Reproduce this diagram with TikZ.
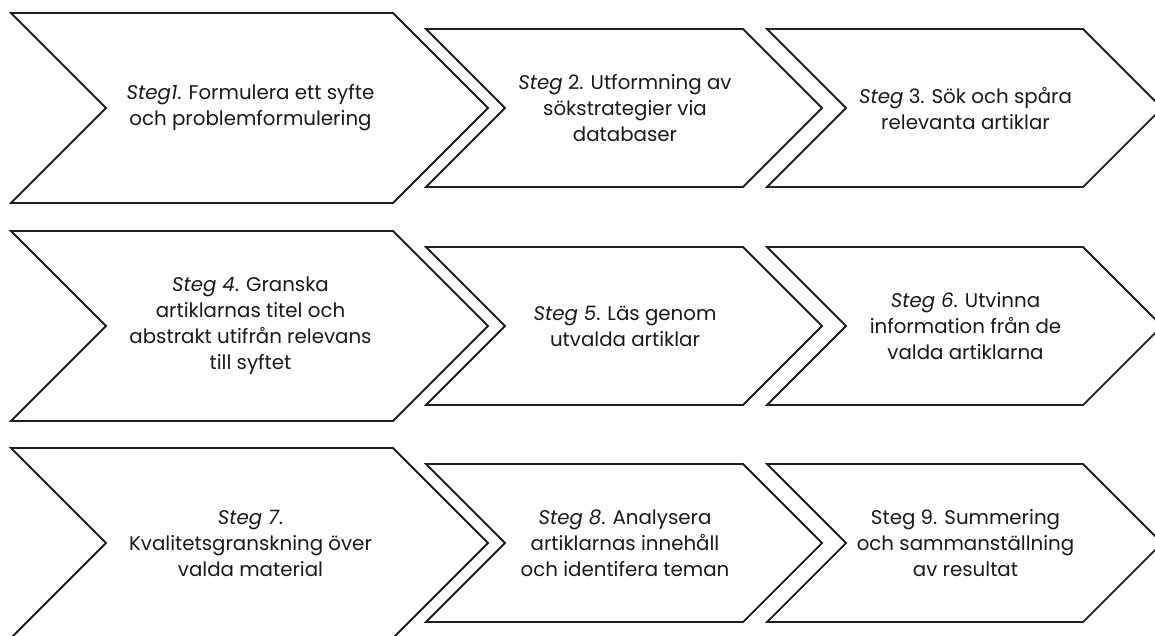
\documentclass[tikz,border=0pt]{standalone}
\usepackage{fontspec}
\setmainfont{Poppins}
\tikzset{
  chevline/.style={draw=black!88, line width=1.8pt, line join=miter, fill=white},
  chevtext/.style={align=center, font=\fontsize{19.8}{26}\selectfont, inner sep=0pt, text=black!90}
}
% \mychevron{name}{xl}{xr}{yc}{h}
\newcommand{\mychevron}[5]{%
  \draw[chevline] (#2,#4-#5) coordinate (#1-tl) -- (#3,#4-#5) -- (#3+#5,#4) coordinate (#1-tip)
    -- (#3,#4+#5) -- (#2,#4+#5) -- (#2+#5,#4) coordinate (#1-notch) -- cycle;
  \coordinate (#1) at ({(#2+#3+#5)/2+1},#4);
}
\begin{document}
\begin{tikzpicture}[x=1pt,y=-1pt]
\clip (0,0) rectangle (1155,635);
\fill[white] (0,0) rectangle (1155,635);
% row 1
\mychevron{c1}{11}{393}{108}{95}
\mychevron{c2}{426}{743}{108}{79}
\mychevron{c3}{767}{1083}{108}{79}
% row 2
\mychevron{c4}{11}{393}{326}{95}
\mychevron{c5}{426}{743}{326}{79}
\mychevron{c6}{767}{1083}{326}{79}
% row 3
\mychevron{c7}{11}{393}{543}{95}
\mychevron{c8}{426}{743}{543}{79}
\mychevron{c9}{767}{1083}{543}{79}
% texts
\node[chevtext] (t1) at (c1) {\textit{Steg1}. Formulera ett syfte\\och problemformulering};
\node[chevtext] (t2) at (c2) {\textit{Steg} 2. Utformning av\\sökstrategier via\\databaser};
\node[chevtext] (t3) at (c3) {\textit{Steg} 3. Sök och spåra\\relevanta artiklar};
\node[chevtext] (t4) at (c4) {\textit{Steg 4}. Granska\\artiklarnas titel och\\abstrakt utifrån relevans\\till syftet};
\node[chevtext] (t5) at (c5) {\textit{Steg 5}. Läs genom\\utvalda artiklar};
\node[chevtext] (t6) at (c6) {\textit{Steg 6}. Utvinna\\information från de\\valda artiklarna};
\node[chevtext] (t7) at (c7) {\textit{Steg 7}.\\Kvalitetsgranskning över\\valda material};
\node[chevtext] (t8) at (c8) {\textit{Steg 8}. Analysera\\artiklarnas innehåll\\och identifera teman};
\node[chevtext] (t9) at (c9) {Steg 9. Summering\\och sammanställning\\av resultat};
\end{tikzpicture}
\end{document}
